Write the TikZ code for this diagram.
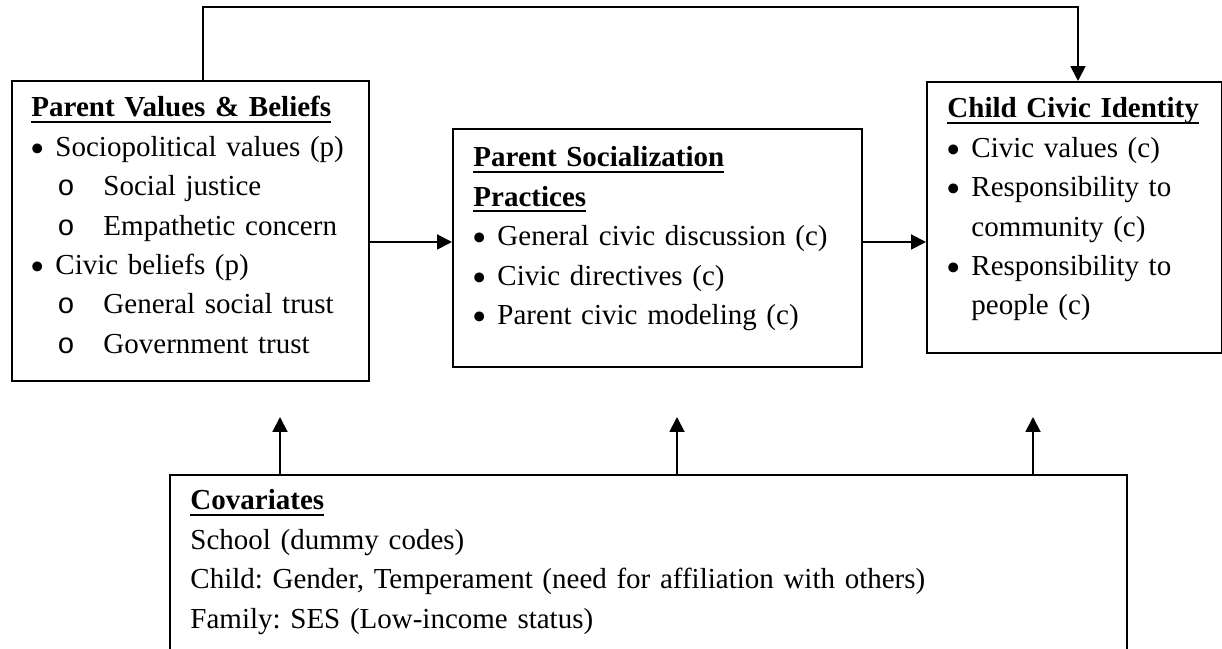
\documentclass[tikz,border=0pt]{standalone}
\usepackage{fontspec}
\setmainfont{Liberation Serif}
\newfontfamily\monofont{Liberation Mono}
\usetikzlibrary{arrows.meta, calc}
\frenchspacing

\newcommand{\uhead}[1]{\leavevmode\setbox0\hbox{\textbf{#1}}\rlap{\rule[-2.5pt]{\wd0}{1pt}}\box0}
\newcommand{\bul}{\makebox[9.93pt][l]{\hspace{-0.4pt}\raisebox{-2.45pt}{\fontsize{17}{0}\selectfont •}}}
\newcommand{\subb}{\hspace*{10.76pt}\makebox[19.04pt][l]{\monofont o}}
\newcommand{\hang}{\hspace*{9.93pt}}

\tikzstyle{box} = [rectangle, draw=black, line width=0.8pt, inner sep=0pt, anchor=north west]
\tikzstyle{txt} = [inner sep=0pt, anchor=base west, align=left, font=\fontsize{12}{16.3}\selectfont]
\tikzstyle{arrow} = [line width=0.8pt, -{Triangle[length=6.2pt, width=6.2pt]}]

\begin{document}
\begin{tikzpicture}[x=0.4138pt, y=-0.4138pt]
\useasboundingbox (0,0) rectangle (1222,649);
% frames
\node (values) [box, minimum width=147.7pt, minimum height=124.1pt] at (11,80) {};
\node (practices) [box, minimum width=169.2pt, minimum height=98.5pt] at (452,128) {};
\node (identity) [box, minimum width=122.1pt, minimum height=112.1pt] at (926,81) {};
\node (covariates) [box, minimum width=396.0pt, minimum height=103.4pt] at (169,474) {};
% texts
\node (valuestext) [txt, text width=140pt] at (31,117) {\uhead{Parent Values \& Beliefs}\\
\bul Sociopolitical values (p)\\
\subb Social justice\\
\subb Empathetic concern\\
\bul Civic beliefs (p)\\
\subb General social trust\\
\subb Government trust};
\node (practicestext) [txt, text width=160pt] at (473,167) {\uhead{Parent Socialization}\\
\uhead{Practices}\\
\bul General civic discussion (c)\\
\bul Civic directives (c)\\
\bul Parent civic modeling (c)};
\node (identitytext) [txt, text width=112pt] at (947,118) {\uhead{Child Civic Identity}\\
\bul Civic values (c)\\
\bul Responsibility to\\
\hang community (c)\\
\bul Responsibility to\\
\hang people (c)};
\node (covariatestext) [txt, text width=385pt] at (190,510) {\uhead{Covariates}\\
School (dummy codes)\\
Child: Gender, Temperament (need for affiliation with others)\\
Family: SES (Low-income status)};
% connectors
\draw [arrow] ($(values.north west)+(192,0)$) -- ++(0,-73) -| ($(identity.north west)+(152,0)$);
\draw [arrow] ($(values.north east)+(0,162)$) coordinate (mid) -- (mid -| practices.west);
\draw [arrow] (mid -| practices.east) -- (mid -| identity.west);
\foreach \x/\n in {280/1, 677/2, 1033/3} {
  \coordinate (tip\n) at (\x,417);
  \draw [arrow] (tip\n |- covariates.north) -- (tip\n);
}
\end{tikzpicture}
\end{document}
